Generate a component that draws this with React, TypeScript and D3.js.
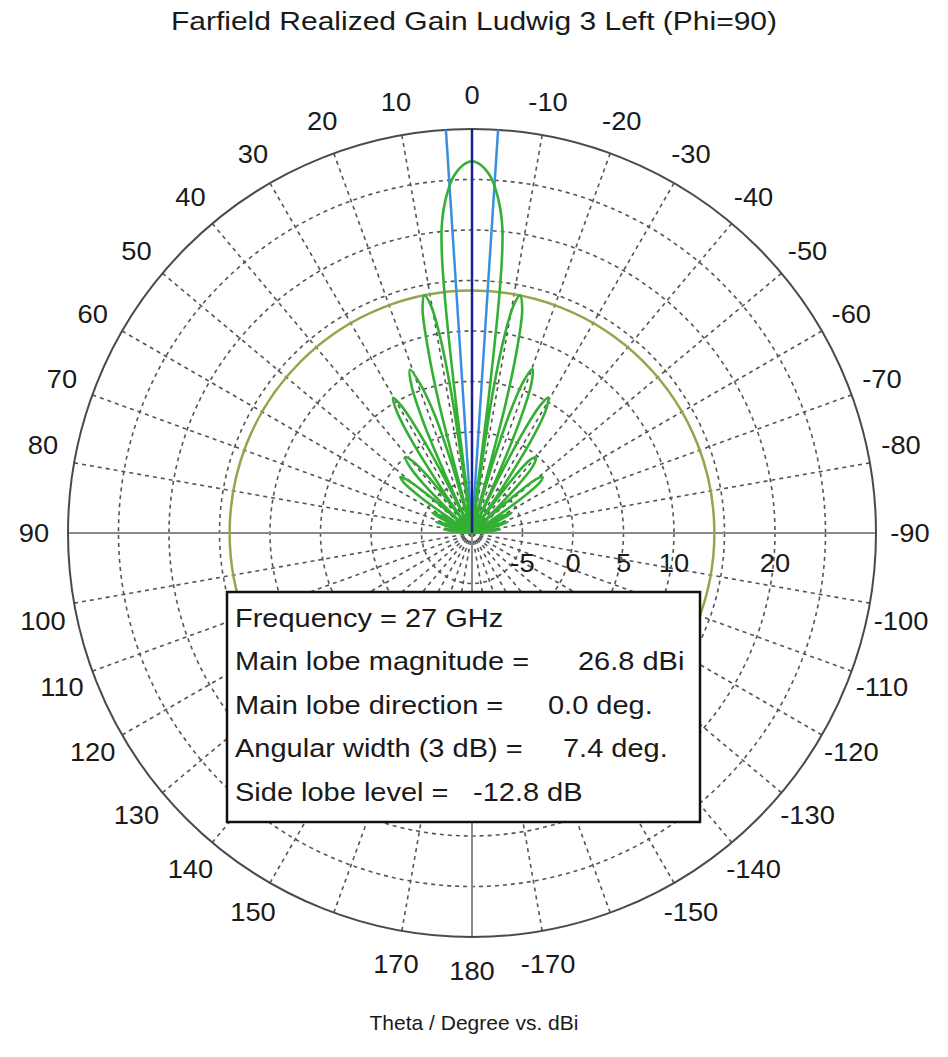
import React from 'react';
import * as d3 from 'd3';

const W = 948;
const H = 1057;

// ---- data ----
const titleText = 'Farfield Realized Gain Ludwig 3 Left (Phi=90)';
const axisTitle = 'Theta / Degree vs. dBi';

const thetaDeg = [
  -180, -150, -120, -100, -92,
  -88, -85.5, -83, -80.5, -78, -75.5, -73, -70.5, -68, -65.5, -63, -60.5, -58,
  -56.5, -55, -53.3, -51.7, -50.2, -48.8, -47.5, -46.5,
  -45.3, -43.8, -42.3, -40.2, -38.4, -37, -35.8, -35,
  -34, -32.6, -31, -29.4, -28.1, -26.9, -25.9, -25.2,
  -24.2, -23.1, -21.7, -20.2, -18.8, -17.5, -16.5, -15.6,
  -14.6, -13.7, -12.6, -11.4, -10.3, -9.3, -8.3, -7.6,
  -7.0, -6.6, -6.2, -5.7, -5, -4, -3, -2, -1, 0, 1, 2, 3, 4, 5, 5.7, 6.2, 6.6, 7.0,
  7.6, 8.3, 9.2, 10.2, 11.3, 12.4, 13.4, 14.3,
  15.2, 16.3, 17.6, 19.3, 20.8, 22.3, 23.7, 24.7,
  25.6, 26.6, 27.8, 29, 30.3, 31.7, 33.2, 34.6,
  35.6, 36.6, 37.9, 39.5, 41.4, 43.2, 44.7, 46,
  47, 48, 49.3, 50.8, 52, 53.5, 55.1, 56.6,
  58, 60.5, 63, 65.5, 68, 70.5, 73, 75.5, 78, 80.5, 83, 85.5, 88,
  92, 100, 120, 150,
];

const gainDbi = [
  -14, -14, -14, -13, -12,
  -12, -9, -7.2, -8.3, -12, -8, -6.3, -7.8, -12, -7.5, -5.6, -7, -12,
  -7.5, -3.8, -1.6, -1.1, -1.6, -4, -8, -12,
  -7.5, -3.2, -1, -0.2, -0.8, -3, -7, -12,
  -5, 0.8, 4.2, 5.4, 4.3, 1.2, -4, -12,
  -4, 2, 5.9, 7.3, 5.9, 2.5, -3, -12,
  3, 9, 12.8, 14.0, 12.8, 9.5, 3, -12,
  4, 13, 17.5, 20.3, 22.2, 24.0, 25.3, 26.1, 26.6, 26.8, 26.6, 26.1, 25.3, 24.0, 22.2, 20.3, 17.5, 13, 4,
  -12, 3, 9.5, 12.8, 14.0, 12.8, 9, 3,
  -12, -3, 2.5, 5.8, 7.3, 5.8, 2, -4,
  -12, -4, 1.2, 4.3, 5.5, 4.2, 0.8, -5,
  -12, -7, -3, -0.8, 0, -1, -3.2, -7.5,
  -12, -8, -4, -1.6, -1, -1.6, -3.8, -7.5,
  -12, -7, -5.6, -7.5, -12, -7.8, -6.3, -8, -12, -8.3, -7.2, -9, -12,
  -12, -13, -14, -14,
];

const radialDomain = [-10, 30];
const ringDb = [-5, 0, 5, 10, 15, 20, 25];
const radialLabelDb = [-5, 0, 5, 10, 20];
const angleLabels = [
  0, 10, 20, 30, 40, 50, 60, 70, 80, 90, 100, 110, 120, 130, 140, 150, 170, 180,
  -170, -150, -140, -130, -120, -110, -100, -90, -80, -70, -60, -50, -40, -30, -20, -10,
];

const frequencyGHz = 27;
const mainLobeMagnitude = 26.8;
const mainLobeDirection = 0.0;
const angularWidth3dB = 7.4;
const sideLobeLevel = -12.8;

const legendLabels = [
  `Frequency = ${frequencyGHz} GHz`,
  'Main lobe magnitude =',
  'Main lobe direction =',
  'Angular width (3 dB) =',
  'Side lobe level =',
];
const legendValues = [
  '',
  `${mainLobeMagnitude.toFixed(1)} dBi`,
  `${mainLobeDirection.toFixed(1)} deg.`,
  `${angularWidth3dB.toFixed(1)} deg.`,
  `${sideLobeLevel.toFixed(1)} dB`,
];

// ---- layout ----
const cx = 472;
const cy = 533;
const R = 404;
const FONT = "'Liberation Sans', Arial, Helvetica, sans-serif";

const rScale = d3.scaleLinear().domain(radialDomain).range([0, R]).clamp(true);
const toRad = (deg: number) => (deg * Math.PI) / 180;
const pt = (deg: number, r: number): [number, number] => [
  cx - r * Math.sin(toRad(deg)),
  cy - r * Math.cos(toRad(deg)),
];

function SText(props: {
  x: number; y: number; sx?: number; size: number; anchor?: string; children: React.ReactNode; fill?: string;
}) {
  const { x, y, sx = 1, size, anchor = 'start', children, fill = '#1a1a1a' } = props;
  return (
    <text
      x={x}
      y={y}
      fontSize={size}
      fontFamily={FONT}
      textAnchor={anchor}
      fill={fill}
      transform={`translate(${x},${y}) scale(${sx},1) translate(${-x},${-y})`}
      style={{ whiteSpace: 'pre' }}
    >
      {children}
    </text>
  );
}

// labels near the horizontal axis are pushed slightly away from it
const labelAngle = (a: number) => {
  const abs = Math.abs(a);
  const d = abs - 90;
  const push = abs === 90 || abs === 0 || abs === 180 ? 0 : Math.sign(d) * Math.max(0, 2.6 - Math.abs(d) * 0.1) * (Math.abs(d) <= 30 ? 1 : 0);
  return Math.sign(a) * (abs + push);
};

export default function App() {
  const gridAngles = d3.range(0, 360, 10).filter((a) => a % 90 !== 0);

  const pattern = thetaDeg.map((t, i) => ({ t, g: gainDbi[i] }));
  const lineGen = d3
    .lineRadial<{ t: number; g: number }>()
    .angle((d) => -toRad(d.t))
    .radius((d) => rScale(d.g))
    .curve(d3.curveCatmullRomClosed.alpha(0.5));
  const patternPath = lineGen(pattern) || '';

  const sllRadius = rScale(mainLobeMagnitude + sideLobeLevel);
  const bwLeft = mainLobeDirection + angularWidth3dB / 2;
  const bwRight = mainLobeDirection - angularWidth3dB / 2;
  const [blx, bly] = pt(bwLeft, R);
  const [brx, bry] = pt(bwRight, R);
  const [mx, my] = pt(mainLobeDirection, R);

  const labelR = R + 34;

  // legend box
  const boxX = 227;
  const boxY = 592;
  const boxW = 473;
  const boxH = 230;
  const lineH = 43.5;
  const textX = 235;
  const valueX = [0, 578, 548, 563, 473];

  return (
    <svg
      width={W}
      height={H}
      viewBox={`0 0 ${W} ${H}`}
      style={{ position: 'absolute', left: 0, top: 0, background: '#fff' }}
    >
      <rect x={0} y={0} width={W} height={H} fill="#fff" />
      <SText x={W / 2} y={30} size={25} sx={1.2} anchor="middle">{titleText}</SText>

      {/* dashed rings */}
      {ringDb.map((v) => (
        <circle
          key={`ring${v}`}
          cx={cx}
          cy={cy}
          r={rScale(v)}
          fill="none"
          stroke="#555"
          strokeWidth={1.6}
          strokeDasharray="4 4"
        />
      ))}
      {/* dashed radial lines */}
      {gridAngles.map((a) => {
        const [x2, y2] = pt(a, R);
        return (
          <line
            key={`rad${a}`}
            x1={cx}
            y1={cy}
            x2={x2}
            y2={y2}
            stroke="#555"
            strokeWidth={1.6}
            strokeDasharray="4 4"
          />
        );
      })}
      {/* solid axes */}
      <line x1={cx - R} y1={cy} x2={cx + R} y2={cy} stroke="#8a8a8a" strokeWidth={2} />
      <line x1={cx} y1={cy - R} x2={cx} y2={cy + R} stroke="#8a8a8a" strokeWidth={2} />
      <circle cx={cx} cy={cy} r={R} fill="none" stroke="#4a4a4a" strokeWidth={2} />

      {/* side lobe level circle */}
      <circle cx={cx} cy={cy} r={sllRadius} fill="none" stroke="#93a64c" strokeWidth={2.5} />

      {/* beam width lines */}
      <line x1={cx} y1={cy} x2={blx} y2={bly} stroke="#3a8ee2" strokeWidth={2.5} />
      <line x1={cx} y1={cy} x2={brx} y2={bry} stroke="#3a8ee2" strokeWidth={2.5} />

      {/* pattern */}
      <path d={patternPath} transform={`translate(${cx},${cy})`} fill="none" stroke="#33b033" strokeWidth={2.6} strokeLinejoin="round" />

      {/* main lobe direction */}
      <line x1={cx} y1={cy} x2={mx} y2={my} stroke="#1e1e8c" strokeWidth={2.5} />

      {/* angle labels */}
      {angleLabels.map((a) => {
        const [x, y] = pt(labelAngle(a), labelR);
        return (
          <SText key={`al${a}`} x={x} y={y + 9} size={26} sx={1.05} anchor="middle">
            {String(a)}
          </SText>
        );
      })}

      {/* radial labels */}
      {radialLabelDb.map((v) => (
        <SText key={`rl${v}`} x={cx + rScale(v)} y={cy + 39} size={26} sx={1.05} anchor="middle">
          {String(v)}
        </SText>
      ))}

      {/* legend */}
      <rect x={boxX} y={boxY} width={boxW} height={boxH} fill="#fff" stroke="#111" strokeWidth={2.5} />
      {legendLabels.map((l, i) => (
        <SText key={`ll${i}`} x={textX} y={boxY + 35 + i * lineH} size={25} sx={1.16}>
          {l}
        </SText>
      ))}
      {legendValues.map((v, i) =>
        v ? (
          <SText key={`lv${i}`} x={valueX[i]} y={boxY + 35 + i * lineH} size={25} sx={1.16}>
            {v}
          </SText>
        ) : null
      )}

      <SText x={W / 2} y={1030} size={21} sx={1.0} anchor="middle">{axisTitle}</SText>
    </svg>
  );
}
